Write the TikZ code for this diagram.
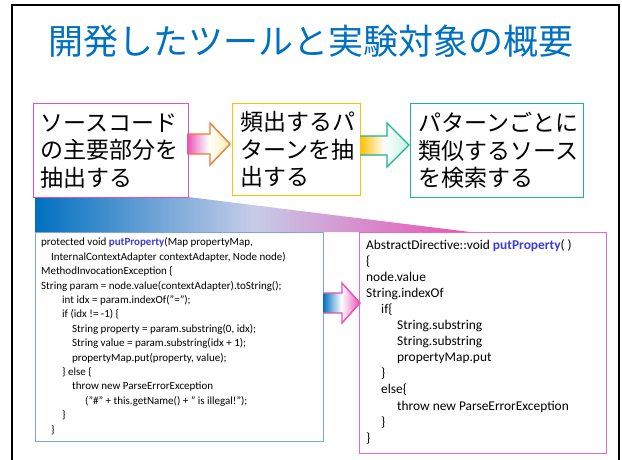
\documentclass[tikz,border=0pt]{standalone}
\usepackage{fontspec}
\setmainfont{Carlito}
\newfontfamily\jpfont{Noto Sans CJK JP}
\definecolor{ttl}{HTML}{0070C0}
\definecolor{pinkb}{HTML}{EA4FB4}
\definecolor{goldb}{HTML}{FFC000}
\definecolor{tealb}{HTML}{1DB48E}
\definecolor{orangeb}{HTML}{ED7D31}
\definecolor{lblue}{HTML}{7EA6DE}
\definecolor{lav}{HTML}{C6CCE8}
\definecolor{kw}{HTML}{3C3CDC}
\definecolor{pyel}{HTML}{FFF0B0}
\definecolor{mint}{HTML}{C0F2E2}
\tikzset{
  stepbox/.style={draw, line width=1.4pt, anchor=north west, inner xsep=7pt,
    align=left, font=\jpfont\fontsize{23}{27.5}\selectfont},
  codebox/.style={draw, line width=1.2pt, anchor=north west, inner sep=0pt},
  codetext/.style={anchor=north west, inner sep=0pt, align=left},
  blockarrow/.style={line width=1.4pt, line join=miter}
}
\newcommand{\kwd}[1]{\textbf{\textcolor{kw}{#1}}}
\begin{document}
\begin{tikzpicture}[x=1pt,y=-1pt]
\useasboundingbox (0,0) rectangle (622,459);
\clip (0,0) rectangle (622,459);
\fill[white] (0,0) rectangle (622,459);
% frame
\draw[line width=2pt] (12,470) -- (12,5) -- (619,5) -- (619,470);
% title
\node[font=\jpfont\fontsize{35}{40}\selectfont, text=ttl] (title) at (311,41) {開発したツールと実験対象の概要};
% gradient band
\shade[left color=ttl, right color=pinkb, middle color=lav]
  (35,197) -- (188,197) -- (470,232) -- (35,232) -- cycle;
% step boxes
\node[stepbox, draw=pinkb, text width=141pt, minimum height=94pt] (b1) at (33,103)
  {ソースコード\\の主要部分を\\抽出する};
\node[stepbox, draw=goldb, inner xsep=8pt, text width=112pt, minimum height=92pt] (b2) at (232,103)
  {頻出するパ\\ターンを抽\\出する};
\node[stepbox, draw=tealb, inner xsep=8pt, text width=157pt, minimum height=94pt] (b3) at (410,103)
  {パターンごとに\\類似するソース\\を検索する};
% block arrows between steps
\shade[left color=pinkb, right color=pyel, middle color=white]
  (187,134) -- (210,134) -- (210,123) -- (230,144) -- (210,165) -- (210,154) -- (187,154) -- cycle;
\draw[blockarrow, draw=orangeb]
  (187,134) -- (210,134) -- (210,123) -- (230,144) -- (210,165) -- (210,154) -- (187,154);
\shade[left color=goldb, right color=mint, middle color=white]
  (360,136) -- (387,136) -- (387,123) -- (409,145) -- (387,167) -- (387,155) -- (360,155) -- cycle;
\draw[blockarrow, draw=tealb]
  (360,136) -- (387,136) -- (387,123) -- (409,145) -- (387,167) -- (387,155) -- (360,155);
% code boxes
\node[codebox, draw=lblue, minimum width=288pt, minimum height=209pt] (lc) at (35,232) {};
\node[codebox, draw=pinkb!85, minimum width=247pt, minimum height=221pt] (rc) at (359,232) {};
\node[codetext, font=\fontsize{11}{14.4}\selectfont] (lct) at (41,235.6) {%
\strut protected void \kwd{putProperty}(Map propertyMap,\\
\hspace*{10pt}InternalContextAdapter contextAdapter, Node node)\\
MethodInvocationException \{\\
String param = node.value(contextAdapter).toString();\\
\hspace*{21pt}int idx = param.indexOf("=");\\
\hspace*{21pt}if (idx != -1) \{\\
\hspace*{31pt}String property = param.substring(0, idx);\\
\hspace*{31pt}String value = param.substring(idx + 1);\\
\hspace*{31pt}propertyMap.put(property, value);\\
\hspace*{21pt}\} else \{\\
\hspace*{31pt}throw new ParseErrorException\\
\hspace*{44pt}("\#" + this.getName() + " is illegal!");\\
\hspace*{21pt}\}\\
\hspace*{10pt}\}};
\node[codetext, font=\fontsize{13.4}{16.1}\selectfont] (rct) at (366,237.6) {%
\strut AbstractDirective::void \kwd{putProperty}( )\\
\{\\
node.value\\
String.indexOf\\
\hspace*{15pt}if\{\\
\hspace*{31pt}String.substring\\
\hspace*{31pt}String.substring\\
\hspace*{31pt}propertyMap.put\\
\hspace*{15pt}\}\\
\hspace*{15pt}else\{\\
\hspace*{31pt}throw new ParseErrorException\\
\hspace*{15pt}\}\\
\}};
% arrow between code boxes
\shade[left color=ttl, right color=pinkb, middle color=white]
  (323,293) -- (342,293) -- (342,283) -- (360,303) -- (342,323) -- (342,313) -- (323,313) -- cycle;
\draw[blockarrow, draw=pinkb]
  (323,293) -- (342,293) -- (342,283) -- (360,303) -- (342,323) -- (342,313) -- (323,313);
\end{tikzpicture}
\end{document}
